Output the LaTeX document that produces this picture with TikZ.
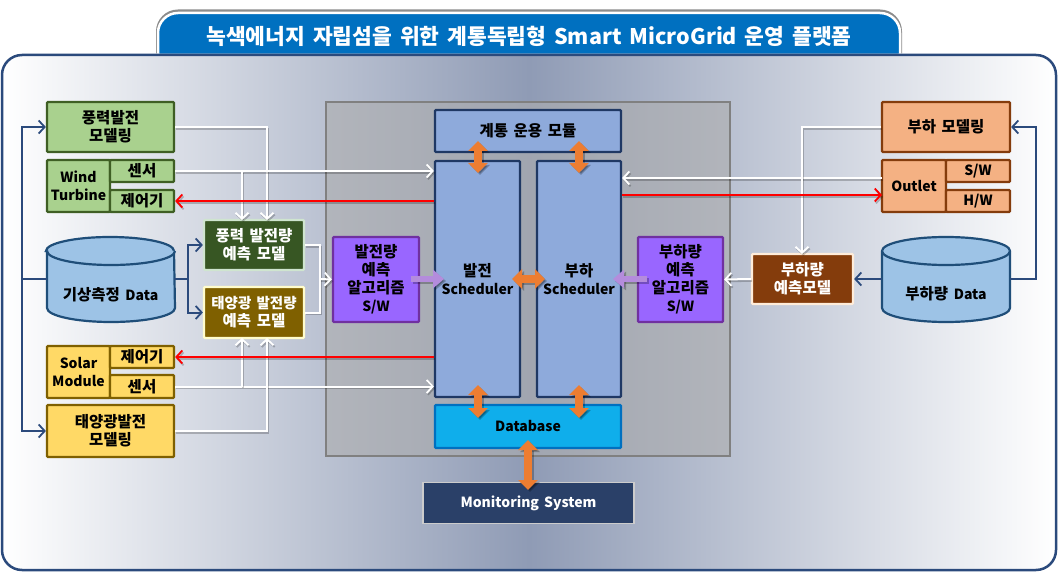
\documentclass[tikz,border=0pt]{standalone}
\usepackage{fontspec}
\setmainfont[WordSpace=1.6]{Noto Sans CJK KR}
\usetikzlibrary{arrows.meta,calc,shadows}
\definecolor{panelline}{HTML}{2B4A7C}
\definecolor{tabblue}{HTML}{0070C0}
\definecolor{midgrad}{HTML}{8F9BB5}
\definecolor{greenfill}{HTML}{A9D18E}
\definecolor{greenline}{HTML}{3F5F24}
\definecolor{yellowfill}{HTML}{FFD966}
\definecolor{brownline}{HTML}{7F6000}
\definecolor{orangefill}{HTML}{F4B183}
\definecolor{rustline}{HTML}{843C0C}
\definecolor{cylfill}{HTML}{9DC3E6}
\definecolor{cylline}{HTML}{1F4E79}
\definecolor{schedfill}{HTML}{8EAADB}
\definecolor{schedline}{HTML}{1F3864}
\definecolor{dbfill}{HTML}{0FAEEB}
\definecolor{purplefill}{HTML}{9966FF}
\definecolor{purpleline}{HTML}{7030A0}
\definecolor{fatorange}{HTML}{ED7D31}
\definecolor{fatpurple}{HTML}{B48CDC}
\definecolor{monfill}{HTML}{2A4068}
\definecolor{wfdark}{HTML}{375623}
\newcommand{\la}{\fontsize{14}{18}\selectfont}
\tikzset{
  basebox/.style={draw,rounded corners=1pt,line width=2.2pt,inner sep=0pt,align=center,
    font=\fontsize{15.5}{18}\selectfont\bfseries,text=black},
  greenbox/.style={basebox,draw=greenline,fill=greenfill},
  yellowbox/.style={basebox,draw=brownline,fill=yellowfill},
  orangebox/.style={basebox,draw=rustline,fill=orangefill},
  purplebox/.style={basebox,draw=purpleline,fill=purplefill},
  schedbox/.style={basebox,draw=schedline,fill=schedfill},
  darkgreen/.style={basebox,draw=green!10!white!90!black,fill=wfdark,text=white},
  darkbrown/.style={basebox,draw=yellow!20!white,fill=brownline,text=white},
  darkrust/.style={basebox,draw=orange!15!white,fill=rustline,text=white},
  cylbody/.style={draw=cylline,fill=cylfill,line width=2.2pt},
  cyllabel/.style={font=\fontsize{15.5}{18}\selectfont\bfseries,text=black,inner sep=0pt},
  tip/.style={-{Straight Barb[length=6pt,width=13pt,line width=1.8pt]}},
  bluearrow/.style={draw=panelline,line width=2pt},
  whitearrow/.style={draw=white,line width=2pt},
  redarrow/.style={draw=red,line width=2pt},
  shadowline/.style={draw=black,opacity=.22,line width=2pt,transform canvas={shift={(1.2pt,-1.8pt)}}},
  fat/.style={{Triangle[length=10pt,width=19pt]}-{Triangle[length=10pt,width=19pt]},line width=8pt,draw=fatorange},
  fatone/.style={-{Triangle[length=11pt,width=18pt]},line width=6.5pt,draw=fatpurple},
  fatshadow/.style={draw=black,opacity=.25,transform canvas={shift={(2pt,-2pt)}}}
}
\newcommand{\wlink}[1]{\draw[shadowline] #1; \draw[whitearrow] #1;}
\newcommand{\wlinkt}[1]{\draw[shadowline,tip] #1; \draw[whitearrow,tip] #1;}
\newcommand{\rlinkt}[1]{\draw[shadowline,tip] #1; \draw[redarrow,tip] #1;}
\newcommand{\fatlink}[1]{\draw[fat,fatshadow] #1; \draw[fat] #1;}
\newcommand{\fatonelink}[1]{\draw[fatone,fatshadow] #1; \draw[fatone] #1;}
\newcommand{\cylshape}[2]{%
  \path[cylbody] (#1,251) -- (#1,308) arc[start angle=180,end angle=360,x radius=64pt,y radius=14pt]
    -- (#2,251) arc[start angle=0,end angle=180,x radius=64pt,y radius=14pt] -- cycle;
  \path[cylbody] (#1,251) arc[start angle=180,end angle=360,x radius=64pt,y radius=14pt];}
\begin{document}
\begin{tikzpicture}[x=1pt,y=-1pt]
\useasboundingbox (0,0) rectangle (1058,572);
% title tab
\path[draw=black!45,line width=4pt,line join=round,transform canvas={shift={(0pt,1.5pt)}}]
  (158,55) -- (158,33) arc[start angle=180,end angle=90,radius=20pt] -- (880,13)
  arc[start angle=90,end angle=0,radius=20pt] -- (900,55);
\path[draw=white,fill=tabblue,line width=2.5pt]
  (158,55) -- (158,33) arc[start angle=180,end angle=90,radius=20pt] -- (880,13)
  arc[start angle=90,end angle=0,radius=20pt] -- (900,55) -- cycle;
\node[text=white,font=\fontsize{21.5}{26}\selectfont\bfseries,inner sep=0pt] (title) at (529,36)
  {녹색에너지 자립섬을 위한 계통독립형 Smart MicroGrid 운영 플랫폼};
% panel
\path[draw=panelline,line width=2.5pt,rounded corners=20pt,left color=white,right color=white,middle color=midgrad]
  (2,55) rectangle (1056,570);
% grey frame
\path[fill=black!32,fill opacity=.6,draw=black!50,line width=2.5pt] (326,102) rectangle (730,456);
% central nodes
\node[schedbox,minimum width=186,minimum height=42] (sys) at (528,131) {계통 운용 모듈};
\node[schedbox,minimum width=85,minimum height=236] (gs) at (477.5,279) {발전\\{\la Scheduler}};
\node[schedbox,minimum width=84,minimum height=236] (ls) at (579,279) {부하\\{\la Scheduler}};
\node[basebox,draw=tabblue,fill=dbfill,minimum width=186,minimum height=43] (db) at (528,426.5) {\la Database};
\node[basebox,draw=black!20,line width=1.5pt,fill=monfill,text=white,rounded corners=0pt,minimum width=211,minimum height=41] (mon) at (528.5,503) {\la Monitoring System};
\node[purplebox,minimum width=86,minimum height=85] (gsw) at (376,279.5) {발전량\\예측\\알고리즘\\{\la S/W}};
\node[purplebox,minimum width=85,minimum height=85] (lsw) at (680.5,279.5) {부하량\\예측\\알고리즘\\{\la S/W}};
% left nodes
\node[greenbox,minimum width=127,minimum height=50] (wm) at (110.5,127) {풍력발전\\모델링};
\node[greenbox,minimum width=63,minimum height=52] (wt) at (78.5,186) {\la Wind\\\la Turbine};
\node[greenbox,minimum width=64,minimum height=22] (ws) at (142,171) {센서};
\node[greenbox,minimum width=64,minimum height=22] (wc) at (142,201) {제어기};
\node[darkgreen,minimum width=100,minimum height=50] (wf) at (254,245) {풍력 발전량\\예측 모델};
\node[darkbrown,minimum width=100,minimum height=51] (sf) at (254,312.5) {\fontsize{14.5}{18}\selectfont 태양광 발전량\\예측 모델};
\node[yellowbox,minimum width=63,minimum height=52] (sm) at (78.5,372) {\la Solar\\\la Module};
\node[yellowbox,minimum width=64,minimum height=22] (sc) at (142,357) {제어기};
\node[yellowbox,minimum width=64,minimum height=23] (ss) at (142,386.5) {센서};
\node[yellowbox,minimum width=127,minimum height=52] (pm) at (110.5,431) {태양광발전\\모델링};
% left cylinder
\cylshape{47}{174}
\node[cyllabel] (wx) at (110.5,295) {기상측정 {\la Data}};
% right nodes
\node[orangebox,minimum width=128,minimum height=50] (lm) at (946,127) {부하 모델링};
\node[orangebox,minimum width=64,minimum height=52] (ol) at (914,186) {\la Outlet};
\node[orangebox,minimum width=64,minimum height=22] (sw) at (978,171) {\la S/W};
\node[orangebox,minimum width=64,minimum height=22] (hw) at (978,201) {\la H/W};
\node[darkrust,minimum width=101,minimum height=50] (lf) at (802.5,279) {부하량\\예측모델};
\cylshape{882}{1010}
\node[cyllabel] (ld) at (946,294) {부하량 {\la Data}};
% named ends
\coordinate (wxl) at (47,279); \coordinate (wxr) at (174,279);
\coordinate (bus) at (22,279); \coordinate (fork) at (188,279);
\coordinate (ldl) at (882,279); \coordinate (ldr) at (1010,279);
\coordinate (rbus) at (1036,279);
\coordinate (wf1) at (242,220); \coordinate (wf2) at (267,220);
\coordinate (sf1) at (242,338); \coordinate (sf2) at (267,338);
\coordinate (join) at (320,279);
\coordinate (olw) at (882,178); \coordinate (olr) at (882,195);
\coordinate (lfn) at (802,254);
% blue connectors
\draw[bluearrow] (wxl) -- (bus);
\draw[bluearrow,tip] (bus) |- (wm.west);
\draw[bluearrow,tip] (bus) |- (pm.west);
\draw[bluearrow,tip] (wxr) -- (fork) |- (wf.west);
\draw[bluearrow,tip] (fork) |- (sf.west);
\draw[bluearrow,tip] (ldl) -- (lf.east);
\draw[bluearrow,tip] (ldr) -- (rbus) |- (lm.east);
% white connectors
\wlinkt{(wm.east) -| (wf2)}
\wlinkt{(ws.east) -- (gs.west |- ws.east)}
\wlinkt{(ws.east -| wf1) -- (wf1)}
\wlink{(wf.east) -| (join)}
\wlink{(sf.east) -| (join)}
\wlinkt{(join) -- (gsw.west)}
\wlinkt{(ss.east) -- (gs.west |- ss.east)}
\wlinkt{(ss.east -| sf1) -- (sf1)}
\wlinkt{(pm.east) -| (sf2)}
\wlinkt{(olw) -- (ls.east |- olw)}
\wlinkt{(lm.west) -| (lfn)}
\wlinkt{(lf.west) -- (lsw.east)}
% red connectors
\rlinkt{(gs.west |- wc.east) -- (wc.east)}
\rlinkt{(gs.west |- sc.east) -- (sc.east)}
\rlinkt{(ls.east |- olr) -- (olr)}
% fat arrows
\coordinate (a1) at (478,141); \coordinate (a2) at (478,173);
\coordinate (b1) at (579,141); \coordinate (b2) at (579,173);
\coordinate (c1) at (478,385); \coordinate (c2) at (478,418);
\coordinate (d1) at (579,385); \coordinate (d2) at (579,418);
\coordinate (e1) at (528,440); \coordinate (e2) at (528,490);
\coordinate (f1) at (512,279); \coordinate (f2) at (545,279);
\coordinate (p1) at (411,279); \coordinate (p2) at (444,279);
\coordinate (q1) at (647,279); \coordinate (q2) at (613,279);
\fatlink{(a1) -- (a2)}
\fatlink{(b1) -- (b2)}
\fatlink{(c1) -- (c2)}
\fatlink{(d1) -- (d2)}
\fatlink{(e1) -- (e2)}
\fatlink{(f1) -- (f2)}
\fatonelink{(p1) -- (p2)}
\fatonelink{(q1) -- (q2)}
\end{tikzpicture}
\end{document}
